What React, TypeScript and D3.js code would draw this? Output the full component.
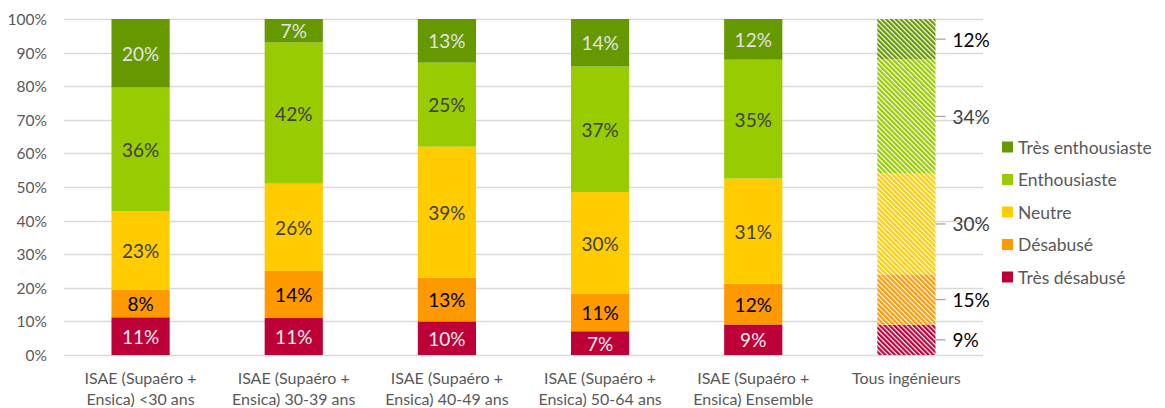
import React from "react";
import * as d3 from "d3";

// categories (two lines each)
const categories = [
  ["ISAE (Supaéro +", "Ensica) <30 ans"],
  ["ISAE (Supaéro +", "Ensica) 30-39 ans"],
  ["ISAE (Supaéro +", "Ensica) 40-49 ans"],
  ["ISAE (Supaéro +", "Ensica) 50-64 ans"],
  ["ISAE (Supaéro +", "Ensica) Ensemble"],
  ["Tous ingénieurs"],
];

const seriesNames = ["Très désabusé", "Désabusé", "Neutre", "Enthousiaste", "Très enthousiaste"];

// percentages per category
const tresDesabuse = [11, 11, 10, 7, 9, 9];
const desabuse = [8, 14, 13, 11, 12, 15];
const neutre = [23, 26, 39, 30, 31, 30];
const enthousiaste = [36, 42, 25, 37, 35, 34];
const tresEnthousiaste = [20, 7, 13, 14, 12, 12];

const yTicks = [0, 0.1, 0.2, 0.3, 0.4, 0.5, 0.6, 0.7, 0.8, 0.9, 1];

const colors = ["#BE0039", "#FF9900", "#FFCC00", "#99CC00", "#669900"];
const labelColors = ["#EDEDED", "#000000", "#404040", "#404040", "#E3E3E3"];
const sideLabelColors = ["#000000", "#000000", "#404040", "#404040", "#000000"];

const FONT = "Lato, 'Open Sans', sans-serif";
const W = 1165;
const H = 408;

export default function App() {
  const seriesData = [tresDesabuse, desabuse, neutre, enthousiaste, tresEnthousiaste];
  const rows = categories.map((_, i) => {
    const row: any = { idx: i };
    seriesNames.forEach((s, j) => (row[s] = seriesData[j][i]));
    return row;
  });

  const stacked = d3
    .stack()
    .keys(seriesNames)
    .offset(d3.stackOffsetExpand)(rows as any);

  const x = d3
    .scaleBand<number>()
    .domain(categories.map((_, i) => i))
    .range([64, 983])
    .paddingInner(0.62)
    .paddingOuter(0.31);

  const y = d3.scaleLinear().domain([0, 1]).range([355, 19]);
  const fmt = d3.format(".0%");
  const lastIdx = categories.length - 1;

  const legendY = d3
    .scalePoint<string>()
    .domain([...seriesNames].reverse())
    .range([147, 277]);

  return (
    <div style={{ position: "absolute", left: 0, top: 0 }}>
      <svg width={W} height={H} style={{ display: "block", background: "#fff" }}>
        <defs>
          {colors.map((c, i) => (
            <pattern
              key={i}
              id={`hatch${i}`}
              width={3.4}
              height={3.4}
              patternUnits="userSpaceOnUse"
              patternTransform="rotate(-45)"
            >
              <rect width={3.4} height={3.4} fill="#fff" />
              <rect width={2.2} height={3.4} fill={c} />
            </pattern>
          ))}
        </defs>

        {/* gridlines */}
        {yTicks.map((t) => (
          <line
            key={t}
            x1={64}
            x2={983}
            y1={Math.round(y(t)) + 0.5}
            y2={Math.round(y(t)) + 0.5}
            stroke="#D9D9D9"
            strokeWidth={1.3}
          />
        ))}
        {yTicks.map((t) => (
          <text
            key={"l" + t}
            x={47}
            y={y(t)}
            textAnchor="end"
            dominantBaseline="central"
            fontFamily={FONT}
            fontSize={15.5}
            fill="#595959"
          >
            {fmt(t)}
          </text>
        ))}

        {/* bars */}
        {stacked.map((layer, si) =>
          layer.map((d, ci) => {
            const bx = x(ci)!;
            const y0 = y(d[1]);
            const y1 = y(d[0]);
            return (
              <rect
                key={`${si}-${ci}`}
                x={bx}
                y={y0}
                width={x.bandwidth()}
                height={y1 - y0}
                fill={ci === lastIdx ? `url(#hatch${si})` : colors[si]}
              />
            );
          })
        )}

        {/* value labels */}
        {stacked.map((layer, si) =>
          layer.map((d, ci) => {
            const bx = x(ci)!;
            const cy = (y(d[0]) + y(d[1])) / 2;
            const value = seriesData[si][ci];
            if (ci === lastIdx) {
              const ex = bx + x.bandwidth();
              return (
                <g key={`t${si}-${ci}`}>
                  <line x1={ex} x2={ex + 10} y1={cy} y2={cy} stroke="#A6A6A6" strokeWidth={1.3} />
                  <text
                    x={ex + 17}
                    y={cy}
                    dominantBaseline="central"
                    fontFamily={FONT}
                    fontSize={19}
                    fill={sideLabelColors[si]}
                  >
                    {value}%
                  </text>
                </g>
              );
            }
            return (
              <text
                key={`t${si}-${ci}`}
                x={bx + x.bandwidth() / 2}
                y={cy}
                textAnchor="middle"
                dominantBaseline="central"
                fontFamily={FONT}
                fontSize={19}
                fill={labelColors[si]}
              >
                {value}%
              </text>
            );
          })
        )}

        {/* category labels */}
        {categories.map((lines, ci) => (
          <text
            key={"c" + ci}
            x={x(ci)! + x.bandwidth() / 2}
            y={384}
            textAnchor="middle"
            fontFamily={FONT}
            fontSize={16}
            fill="#595959"
          >
            {lines.map((ln, k) => (
              <tspan key={k} x={x(ci)! + x.bandwidth() / 2} dy={k === 0 ? 0 : 21}>
                {ln}
              </tspan>
            ))}
          </text>
        ))}

        {/* legend */}
        {seriesNames.map((s, si) => {
          const ly = legendY(s)!;
          return (
            <g key={"lg" + s}>
              <rect x={1002} y={ly - 5.5} width={11} height={11} fill={colors[si]} />
              <text
                x={1018}
                y={ly}
                dominantBaseline="central"
                fontFamily={FONT}
                fontSize={17.5}
                fill="#595959"
              >
                {s}
              </text>
            </g>
          );
        })}
      </svg>
    </div>
  );
}
